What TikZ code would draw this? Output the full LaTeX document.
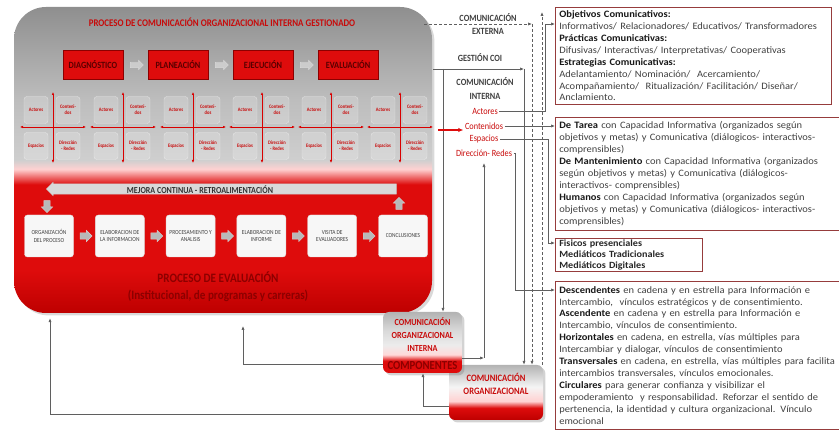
\documentclass[tikz,border=0pt]{standalone}
\usepackage{fontspec}
\setmainfont{Carlito}
\newfontfamily\condfont[FakeStretch=0.87]{Carlito}
\newfontfamily\boxfont[FakeStretch=1.07]{Carlito}
\usetikzlibrary{shapes.arrows, arrows.meta, positioning, calc, shadows}
\hyphenpenalty=10000

\definecolor{procred}{RGB}{222,12,12}
\definecolor{procdark}{RGB}{190,0,0}
\definecolor{labred}{RGB}{200,10,10}
\definecolor{evred}{RGB}{140,0,0}
\definecolor{boxline}{RGB}{150,60,60}
\definecolor{txtgray}{RGB}{64,64,64}
\definecolor{lineclr}{RGB}{95,95,95}

\pgfdeclareverticalshading{procshade}{100bp}{color(0bp)=(procdark); color(25bp)=(procdark); color(32bp)=(procred); color(46bp)=(procred); color(48.5bp)=(red!18!white); color(50bp)=(gray!38); color(60bp)=(gray!52); color(75bp)=(gray!88); color(100bp)=(gray!88)}
\pgfdeclareverticalshading{cointshade}{100bp}{color(0bp)=(procred); color(25bp)=(procred); color(35bp)=(procred); color(40bp)=(red!15!white); color(48bp)=(gray!15); color(60bp)=(gray!30); color(75bp)=(gray!60); color(100bp)=(gray!60)}
\pgfdeclareverticalshading{coshade}{100bp}{color(0bp)=(procdark); color(25bp)=(procdark); color(36bp)=(procred); color(42bp)=(red!18!white); color(55bp)=(gray!8); color(75bp)=(gray!60); color(100bp)=(gray!60)}

\newcommand{\hdr}[1]{\textcolor{black!90}{\textbf{#1}}}

\begin{document}
\begin{tikzpicture}[x=1pt, y=-1pt, >={Latex[length=4pt, width=3.2pt]}]
	% Define styles
	\tikzstyle{procbox} = [shade, shading=procshade, rounded corners=32, minimum width=418, minimum height=306, drop shadow={opacity=0.3}]
	\tikzstyle{titletext} = [text=labred, font=\condfont\bfseries\fontsize{10.2}{11}\selectfont]
	\tikzstyle{phasebox} = [draw=red!55!black, line width=0.5, fill=procred, minimum width=60, minimum height=29, text=red!35!black, font=\condfont\bfseries\fontsize{9.5}{11}\selectfont]
	\tikzstyle{grayarrow} = [single arrow, fill=gray!55, draw=gray!35, minimum height=12, single arrow head extend=2.5, inner sep=3]
	\tikzstyle{phasearrow} = [single arrow, fill=gray!40, draw=gray!30, minimum height=13, single arrow head extend=2, inner xsep=0, inner ysep=2.5]
	\tikzstyle{quadbox} = [rounded corners=3, fill=white, fill opacity=0.18, draw=white, draw opacity=0.5, text opacity=1, minimum width=24, minimum height=27, inner sep=0, align=center, text=labred, font=\condfont\bfseries\fontsize{5.2}{6}\selectfont]
	\tikzstyle{quadarrow} = [draw=red!85!black, line width=0.7, {Latex[length=3pt, width=2.6pt]}-{Latex[length=3pt, width=2.6pt]}]
	\tikzstyle{bararrow} = [single arrow, shape border rotate=180, fill=gray!30, draw=gray!45, minimum height=350, single arrow head extend=1.5, inner xsep=0, inner ysep=5]
	\tikzstyle{bartext} = [text=black!80, font=\condfont\bfseries\fontsize{9.2}{10}\selectfont]
	\tikzstyle{stepbox} = [rounded corners=3, fill=gray!6, draw=gray!25, minimum width=49, minimum height=42, align=center, inner sep=1, text=txtgray, font=\condfont\fontsize{6.2}{7.5}\selectfont]
	\tikzstyle{evaltitle} = [text=evred, font=\condfont\bfseries\fontsize{12.8}{14}\selectfont]
	\tikzstyle{cointbox} = [shade, shading=cointshade, rounded corners=6, minimum width=79, minimum height=61, drop shadow={opacity=0.35}]
	\tikzstyle{cobox} = [shade, shading=coshade, rounded corners=6, minimum width=94, minimum height=55, drop shadow={opacity=0.35}]
	\tikzstyle{cotext} = [align=center, text=labred, font=\condfont\bfseries\fontsize{9.3}{13}\selectfont]
	\tikzstyle{comptext} = [text=evred, font=\condfont\bfseries\fontsize{12.3}{13}\selectfont]
	\tikzstyle{midhead} = [align=center, inner sep=1, text=txtgray, font=\condfont\bfseries\fontsize{9.5}{13}\selectfont]
	\tikzstyle{midred} = [inner sep=1.5, text=labred, font=\condfont\fontsize{9.5}{10}\selectfont]
	\tikzstyle{textbox} = [draw=boxline, line width=0.6, anchor=north west, align=left, inner xsep=4, inner ysep=3.5, text=txtgray, font=\boxfont\fontsize{9.8}{11.9}\selectfont]
	\tikzstyle{conn} = [draw=lineclr, line width=0.7, ->]
	\tikzstyle{dashconn} = [conn, dashed, dash pattern=on 3pt off 2pt]
	\tikzstyle{redconn} = [draw=procred, line width=1.6, -{Latex[length=5pt, width=4.5pt]}]

	\useasboundingbox (0,0) rectangle (839,430);

	% Managed internal communication process
	\node [procbox] (proc) at (223,160) {};
	\node [titletext] (ptitle) at (222,22) {PROCESO DE COMUNICACIÓN ORGANIZACIONAL INTERNA GESTIONADO};

	% Phases
	\node [phasebox] (diag) at (93,65) {DIAGNÓSTICO};
	\node [phasebox, right=24.5pt of diag] (plan) {PLANEACIÓN};
	\node [phasebox, right=24.5pt of plan] (ejec) {EJECUCIÓN};
	\node [phasebox, right=24.5pt of ejec] (eval) {EVALUACIÓN};
	\node [phasearrow] (pa1) at ($(diag.east)!0.5!(plan.west)$) {};
	\node [phasearrow] (pa2) at ($(plan.east)!0.5!(ejec.west)$) {};
	\node [phasearrow] (pa3) at ($(ejec.east)!0.5!(eval.west)$) {};

	% Actors / contents / spaces / networks
	\foreach \cx [count=\i] in {53,123,193,262,331,400} {
		\node [quadbox] (qa\i) at (\cx-17,110) {Actores};
		\node [quadbox] (qc\i) at (\cx+15,110) {Conteni-\\dos};
		\node [quadbox] (qe\i) at (\cx-17,146) {Espacios};
		\node [quadbox] (qd\i) at (\cx+15,146) {Dirección\\- Redes};
		\draw [quadarrow] (\cx,92) -- (\cx,163);
		\draw [quadarrow] (\cx-33,127) -- (\cx+33,127);
	}

	% Continuous improvement
	\node [bararrow] (mejora) at (224,189) {};
	\node [bartext] (mejoratxt) at (200,190) {MEJORA CONTINUA - RETROALIMENTACIÓN};
	\node [grayarrow, shape border rotate=270] (downarr) at (47,205) {};
	\node [grayarrow, shape border rotate=90] (uparr) at (399,205) {};

	% Evaluation steps
	\node [stepbox] (org) at (49,236) {ORGANIZACIÓN\\DEL PROCESO};
	\node [stepbox, right=21.4pt of org] (elab) {ELABORACION DE\\LA INFORMACION};
	\node [stepbox, right=21.4pt of elab] (anal) {PROCESAMIENTO Y\\ANALISIS};
	\node [stepbox, right=21.4pt of anal] (info) {ELABORACION DE\\INFORME};
	\node [stepbox, right=21.4pt of info] (visi) {VISITA DE\\EVALUADORES};
	\node [stepbox, right=21.4pt of visi] (conc) {CONCLUSIONES};
	\node [grayarrow] (sa1) at ($(org.east)!0.5!(elab.west)$) {};
	\node [grayarrow] (sa2) at ($(elab.east)!0.5!(anal.west)$) {};
	\node [grayarrow] (sa3) at ($(anal.east)!0.5!(info.west)$) {};
	\node [grayarrow] (sa4) at ($(info.east)!0.5!(visi.west)$) {};
	\node [grayarrow] (sa5) at ($(visi.east)!0.5!(conc.west)$) {};

	\node [evaltitle] (evtitle) at (218,277) {PROCESO DE EVALUACIÓN};
	\node [evaltitle] (evsub) at (218,296) {(Institucional, de programas y carreras)};

	% Components
	\node [cobox] (cobox) at (496,392.5) {};
	\node [cotext, font=\condfont\bfseries\fontsize{9.8}{13}\selectfont] (cotxt) at ([yshift=9pt]cobox.center) {COMUNICACIÓN\\ORGANIZACIONAL};
	\node [cointbox] (coint) at (422.5,342.5) {};
	\node [cotext] (cointtxt) at (422.5,335) {COMUNICACIÓN\\ORGANIZACIONAL\\INTERNA};
	\node [comptext] (comptxt) at (422.5,366) {COMPONENTES};

	% Middle labels
	\node [midhead] (lext) at (488,24) {COMUNICACIÓN\\EXTERNA};
	\node [midhead] (lgest) at (480,58) {GESTIÓN COI};
	\node [midhead, font=\condfont\bfseries\fontsize{9.5}{14}\selectfont] (lint) at (485,89) {COMUNICACIÓN\\INTERNA};
	\node [midred] (lact) at (485,111) {Actores};
	\node [midred] (lcon) at (484,126) {Contenidos};
	\node [midred] (lesp) at (484,139) {Espacios};
	\node [midred] (ldir) at (484,153) {Dirección- Redes};

	% Text boxes
	\node [textbox, text width=268] (objet) at (555,7) {\hdr{Objetivos Comunicativos:}\\
		Informativos/ Relacionadores/ Educativos/ Transformadores\\
		\hdr{Prácticas Comunicativas:}\\
		Difusivas/ Interactivas/ Interpretativas/ Cooperativas\\
		\hdr{Estrategias Comunicativas:}\\
		Adelantamiento/ Nominación/ \ Acercamiento/\\
		Acompañamiento/ \ Ritualización/ Facilitación/ Diseñar/\\
		Anclamiento.};
	\node [textbox, text width=320, inner ysep=4.5] (tarea) at (555,117) {\hdr{De Tarea} con Capacidad Informativa (organizados según\\
		objetivos y metas) y Comunicativa (diálogicos- interactivos-\\
		comprensibles)\\
		\hdr{De Mantenimiento} con Capacidad Informativa (organizados\\
		según objetivos y metas) y Comunicativa (diálogicos-\\
		interactivos- comprensibles)\\
		\hdr{Humanos} con Capacidad Informativa (organizados según\\
		objetivos y metas) y Comunicativa (diálogicos- interactivos-\\
		comprensibles)};
	\node [textbox, text width=139, inner ysep=1.5, font=\boxfont\bfseries\fontsize{9.5}{11}\selectfont, text=black!85] (medios) at (555,238) {Fisicos presenciales\\
		Mediáticos Tradicionales\\
		Mediáticos Digitales};
	\node [textbox, text width=320, inner ysep=5] (redes) at (555,281) {\hdr{Descendentes} en cadena y en estrella para Información e\\
		Intercambio, \ vínculos estratégicos y de consentimiento.\\
		\hdr{Ascendente} en cadena y en estrella para Información e\\
		Intercambio, vínculos de consentimiento.\\
		\hdr{Horizontales} en cadena, en estrella, vías múltiples para\\
		Intercambiar y dialogar, vínculos de consentimiento\\
		\hdr{Transversales} en cadena, en estrella, vías múltiples para facilita\\
		intercambios transversales, vínculos emocionales.\\
		\hdr{Circulares} para generar confianza y visibilizar el\\
		empoderamiento \ y responsabilidad. Reforzar el sentido de\\
		pertenencia, la identidad y cultura organizacional. Vínculo\\
		emocional};

	% Connector turning points
	\coordinate (extstart) at (424,24);
	\coordinate (extturn) at (532,24);
	\coordinate (uptop) at (542,12);
	\coordinate (gstart) at (433,69);
	\coordinate (gsplit) at (443,69);
	\coordinate (gturn) at (524,69);
	\coordinate (aturn) at (545,24);
	\coordinate (eturn) at (548,243);
	\coordinate (dturn) at (515,290);
	\coordinate (redstart) at (438,130);
	\coordinate (iturn) at (484,358);
	\coordinate (lturn) at (243,364);
	\coordinate (ltop) at (243,326);
	\coordinate (bturn) at (423,406);
	\coordinate (fturn) at (50,414);

	% External communication
	\draw [dashconn] (extstart) -- (extturn);
	\draw [dashconn] (extturn) -- (extturn |- cobox.north);
	\draw [dashconn] (cobox.north -| uptop) -- (uptop);

	% Management
	\draw [conn] (gstart) -- (gturn);
	\draw [conn] (gturn) -- (gturn |- cobox.north);
	\draw [conn] (gsplit) -- (gsplit |- coint.north);

	% Internal communication to the text boxes
	\draw [redconn] (redstart) -- (redstart -| lcon.west);
	\draw [conn] (lact.east) -| (aturn) -- (aturn -| objet.west);
	\draw [conn] (lcon.east) -- (lcon.east -| tarea.west);
	\draw [conn] (lesp.east) -| (eturn) -- (eturn -| medios.west);
	\draw [conn] (ldir.east) -| (dturn) -- (dturn -| redes.west);

	% Feedback from the components
	\draw [conn] (coint.east |- iturn) -- (iturn);
	\draw [conn, shorten >=5pt] (iturn) -- (iturn |- ldir.south);
	\draw [conn] (coint.west |- lturn) -- (lturn) -- (ltop);
	\draw [conn] (cobox.west |- bturn) -- (bturn) -- (bturn |- coint.south);
	\draw [conn, shorten >=5pt] (cobox.west |- fturn) -- (fturn) -- (fturn |- proc.south);

\end{tikzpicture}
\end{document}
